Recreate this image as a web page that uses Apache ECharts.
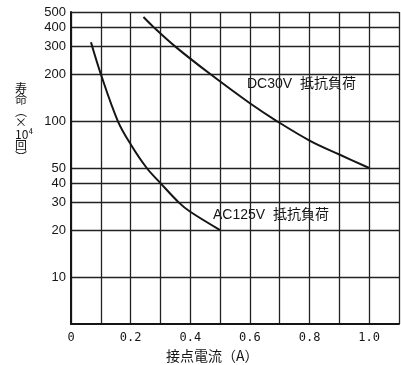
<!DOCTYPE html>
<html>
<head>
<meta charset="utf-8">
<script src="https://cdn.jsdelivr.net/npm/echarts@6/dist/echarts.min.js"></script>
<style>
  html, body { margin: 0; padding: 0; background: #fff; }
  #chart { width: 401px; height: 365px; }
</style>
</head>
<body>
<div id="chart"></div>
<script>
// Contact current (A) vs. life (x10^4 operations)
const ac125Current = [0.067, 0.10, 0.157, 0.20, 0.254, 0.30, 0.362, 0.40, 0.50];
const ac125Life    = [320,   200,  100,   71,   50,    40,   30,    26.2, 20];

const dc30Current = [0.243, 0.277, 0.35, 0.467, 0.60, 0.69, 0.80, 0.90, 1.00];
const dc30Life    = [464,   400,   300,  200,   130,  100,  75,   61,   50];

const lifeTicks = [10, 20, 30, 40, 50, 100, 200, 300, 400, 500];
const currentLabels = [0, 0.2, 0.4, 0.6, 0.8, 1.0];

const ink = '#151515';
const chart = echarts.init(document.getElementById('chart'));

const toPairs = (xs, ys) => xs.map((x, i) => [x, ys[i]]);

chart.setOption({
  animation: false,
  backgroundColor: '#fff',
  grid: { left: 71, right: 2, top: 12, bottom: 41 },
  xAxis: {
    type: 'value',
    min: 0,
    max: 1.1,
    interval: 0.1,
    axisLine: { show: true, lineStyle: { color: ink, width: 2 } },
    axisTick: { show: false },
    splitLine: { show: true, lineStyle: { color: '#222', width: 1.3 } },
    axisLabel: {
      margin: 8,
      fontFamily: 'DejaVu Sans Mono',
      fontSize: 12,
      color: ink,
      showMaxLabel: false,
      formatter: function (v) {
        const t = Math.round(v * 10);
        const hit = currentLabels.find(c => Math.round(c * 10) === t);
        if (hit === undefined) return '';
        return t === 0 ? '0' : hit.toFixed(1);
      }
    }
  },
  yAxis: {
    type: 'log',
    logBase: 10,
    min: 5,
    max: 500,
    axisLine: { show: true, lineStyle: { color: ink, width: 2 } },
    axisTick: { show: false, customValues: lifeTicks },
    splitLine: { show: true, lineStyle: { color: '#222', width: 1.3 } },
    axisLabel: {
      customValues: lifeTicks,
      margin: 5,
      fontFamily: 'Liberation Sans',
      fontSize: 13,
      color: ink
    }
  },
  series: [
    {
      name: 'AC125V',
      type: 'line',
      data: toPairs(ac125Current, ac125Life),
      smooth: 0.35,
      symbol: 'none',
      lineStyle: { color: ink, width: 2 }
    },
    {
      name: 'DC30V',
      type: 'line',
      data: toPairs(dc30Current, dc30Life),
      smooth: 0.35,
      symbol: 'none',
      lineStyle: { color: ink, width: 2 }
    }
  ],
  graphic: [
    {
      type: 'text',
      left: 245, top: 76,
      style: {
        text: 'DC30V  抵抗負荷',
        font: '14px "Liberation Sans", "Noto Sans CJK JP"',
        fill: ink,
        backgroundColor: '#fff',
        padding: [1, 2]
      }
    },
    {
      type: 'text',
      left: 211, top: 207,
      style: {
        text: 'AC125V  抵抗負荷',
        font: '14px "Liberation Sans", "Noto Sans CJK JP"',
        fill: ink,
        backgroundColor: '#fff',
        padding: [1, 2]
      }
    },
    {
      type: 'text',
      left: 166, top: 349,
      style: {
        text: '接点電流（A）',
        font: '14px "Noto Sans CJK JP"',
        fill: ink
      }
    },
    {
      type: 'text',
      left: 15, top: 82,
      style: {
        text: '寿\n命\n︵\n×\n10⁴\n回\n︶',
        font: '12px "Noto Sans CJK JP"',
        lineHeight: 11.5,
        align: 'center',
        fill: ink,
        width: 14
      }
    }
  ]
});
</script>
</body>
</html>
